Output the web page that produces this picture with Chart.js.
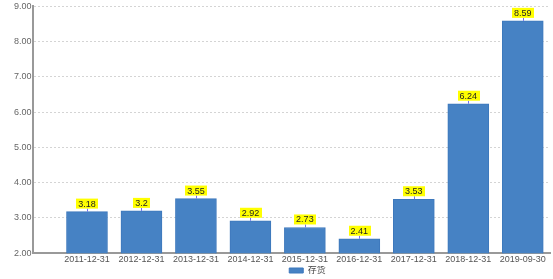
<!DOCTYPE html>
<html>
<head>
<meta charset="utf-8">
<script src="https://cdn.jsdelivr.net/npm/chart.js@4/dist/chart.umd.min.js"></script>
<style>
  html, body { margin: 0; padding: 0; background: #fff; }
  #wrap { width: 553px; height: 279px; }
</style>
</head>
<body>
<div id="wrap"><canvas id="chart" width="553" height="279"></canvas></div>
<script>
const categories = ["2011-12-31", "2012-12-31", "2013-12-31", "2014-12-31", "2015-12-31", "2016-12-31", "2017-12-31", "2018-12-31", "2019-09-30"];
const inventory = [3.18, 3.2, 3.55, 2.92, 2.73, 2.41, 3.53, 6.24, 8.59];
const seriesName = "存货";

const ctx = document.getElementById("chart").getContext("2d");
const fontFam = "'Liberation Sans', 'Noto Sans CJK SC', sans-serif";

// yellow value labels with a small leader line above each bar
const valueLabels = {
  id: "valueLabels",
  afterDatasetsDraw(chart) {
    const c = chart.ctx;
    const meta = chart.getDatasetMeta(0);
    c.save();
    c.font = "9px " + fontFam;
    c.textAlign = "center";
    c.textBaseline = "middle";
    meta.data.forEach((bar, i) => {
      const txt = String(inventory[i]);
      const w = c.measureText(txt).width + 4;
      const h = 10;
      const x = bar.x;
      const bottom = bar.y - 3;
      c.strokeStyle = "#7070ee";
      c.lineWidth = 1;
      c.beginPath();
      c.moveTo(Math.round(x) + 0.5, bottom);
      c.lineTo(Math.round(x) + 0.5, bar.y);
      c.stroke();
      c.fillStyle = "#ffff00";
      c.fillRect(Math.round(x - w / 2), bottom - h, Math.round(w), h);
      c.fillStyle = "#222";
      c.fillText(txt, x, bottom - h / 2 + 0.5);
    });
    c.restore();
  }
};

// the legend in the original sits a bit right of centre
const legendShift = {
  id: "legendShift",
  afterLayout(chart) {
    if (chart.legend) {
      chart.legend.left += 26;
      chart.legend.right += 26;
    }
  }
};

let chart = new Chart(ctx, {
  type: "bar",
  data: {
    datasets: [{
      label: seriesName,
      data: inventory.map((v, i) => ({ x: i + 1, y: v })),
      backgroundColor: "#4682c4",
      borderColor: "#3d78bc",
      borderWidth: 1,
      barThickness: 41
    }]
  },
  options: {
    responsive: false,
    animation: false,
    layout: { padding: { left: 13, right: 3, top: 2, bottom: -6 } },
    plugins: {
      tooltip: { enabled: false },
      legend: {
        position: "bottom",
        labels: {
          boxWidth: 14,
          boxHeight: 5,
          padding: 0,
          color: "#444",
          font: { size: 9, family: fontFam }
        }
      }
    },
    scales: {
      x: {
        type: "linear",
        offset: false,
        min: 0,
        max: 9.5,
        grid: { display: false, drawTicks: false, offset: false },
        border: { color: "#999", width: 2 },
        ticks: {
          stepSize: 1,
          autoSkip: false,
          maxRotation: 0,
          padding: 1,
          color: "#555",
          font: { size: 9, family: fontFam },
          callback: v => (Number.isInteger(v) && v >= 1 && v <= 9) ? categories[v - 1] : ""
        }
      },
      y: {
        min: 2,
        max: 9,
        grid: { color: "#d4d4d4", drawTicks: false },
        border: { color: "#999", width: 2, dash: [2, 2] },
        ticks: {
          stepSize: 1,
          padding: 1,
          color: "#666",
          font: { size: 9, family: fontFam },
          callback: v => v.toFixed(2)
        }
      }
    }
  },
  plugins: [valueLabels, legendShift]
});
</script>
</body>
</html>
